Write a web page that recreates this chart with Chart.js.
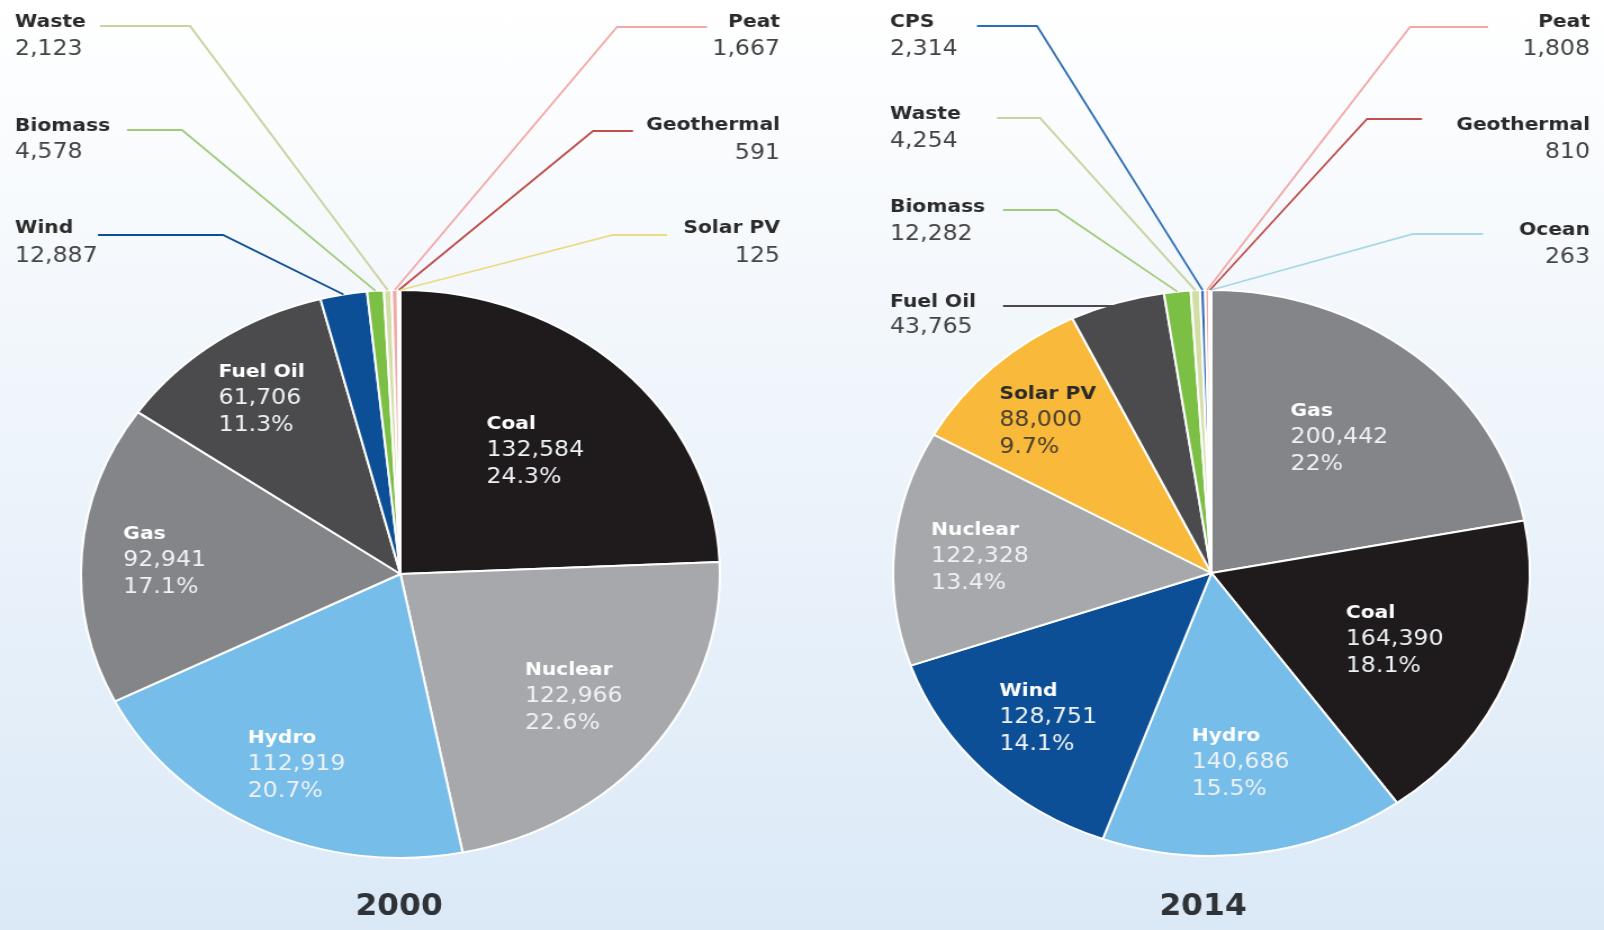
<!DOCTYPE html>
<html>
<head>
<meta charset="utf-8">
<script src="https://cdn.jsdelivr.net/npm/chart.js@4"></script>
<style>
  html, body { margin: 0; padding: 0; width: 1604px; height: 930px; overflow: hidden; }
  body { background: linear-gradient(to bottom, #ffffff 0%, #f4f8fc 30%, #dbe9f7 100%); position: relative; }
  canvas { position: absolute; top: 0; }
</style>
</head>
<body>
<canvas id="pie2000" width="713" height="930" style="left:0;width:802px;height:930px"></canvas>
<canvas id="pie2014" width="713" height="930" style="left:802px;width:802px;height:930px"></canvas>
<script>
// values
const sources2000 = ["Coal", "Nuclear", "Hydro", "Gas", "Fuel Oil", "Wind", "Biomass", "Waste", "Peat", "Geothermal", "Solar PV"];
const values2000 = [132584, 122966, 112919, 92941, 61706, 12887, 4578, 2123, 1667, 591, 125];

const sources2014 = ["Gas", "Coal", "Hydro", "Wind", "Nuclear", "Solar PV", "Fuel Oil", "Biomass", "Waste", "CPS", "Peat", "Geothermal", "Ocean"];
const values2014 = [200442, 164390, 140686, 128751, 122328, 88000, 43765, 12282, 4254, 2314, 1808, 810, 263];

const years = ["2000", "2014"];

const sourceColors = {
  "Coal": "#1f1a1b", "Nuclear": "#a7a8ab", "Hydro": "#76bde9", "Gas": "#848588",
  "Fuel Oil": "#4b4b4d", "Wind": "#0c4f96", "Biomass": "#7bbf45", "Waste": "#d3dea6",
  "Peat": "#f2a9a6", "Geothermal": "#c0504d", "Solar PV": "#f9b93a", "CPS": "#2f6db5",
  "Ocean": "#a6d8e6"
};
const lineColors = { "Solar PV": "#e9dc86", "Waste": "#c6d39c", "Biomass": "#a3cb80" };

// the reference is stretched sideways; canvases are drawn narrow and widened by css
const STRETCH = 802 / 713;

const layout2000 = {
  offset: 0, yearX: 399,
  padding: { left: 71, right: 72, top: 289, bottom: 71 },
  inside: { "Coal": 0.61, "Nuclear": 0.69, "Hydro": 0.74, "Gas": 0.74, "Fuel Oil": 0.76 },
  outside: [
    { name: "Waste", align: "left", tx: 15, nb: 27, vb: 55, ly: 26, start: 100, knee: 190 },
    { name: "Biomass", align: "left", tx: 15, nb: 131, vb: 158, ly: 130, start: 127, knee: 182 },
    { name: "Wind", align: "left", tx: 15, nb: 233, vb: 262, ly: 235, start: 98, knee: 223 },
    { name: "Peat", align: "right", tx: 780, nb: 27, vb: 55, ly: 27, start: 707, knee: 617 },
    { name: "Geothermal", align: "right", tx: 780, nb: 130, vb: 159, ly: 131, start: 633, knee: 593 },
    { name: "Solar PV", align: "right", tx: 780, nb: 233, vb: 262, ly: 235, start: 667, knee: 613 }
  ]
};

const layout2014 = {
  offset: 802, yearX: 1203,
  padding: { left: 80, right: 65, top: 289, bottom: 73 },
  inside: { "Gas": 0.63, "Coal": 0.62, "Hydro": 0.67, "Wind": 0.72, "Nuclear": 0.73, "Solar PV": 0.75 },
  outside: [
    { name: "CPS", align: "left", tx: 890, nb: 27, vb: 55, ly: 26, start: 977, knee: 1037 },
    { name: "Waste", align: "left", tx: 890, nb: 119, vb: 147, ly: 118, start: 997, knee: 1040 },
    { name: "Biomass", align: "left", tx: 890, nb: 212, vb: 240, ly: 210, start: 1003, knee: 1057 },
    { name: "Fuel Oil", align: "left", tx: 890, nb: 307, vb: 333, ly: 306, start: 1003, knee: null },
    { name: "Peat", align: "right", tx: 1590, nb: 27, vb: 55, ly: 27, start: 1488, knee: 1410 },
    { name: "Geothermal", align: "right", tx: 1590, nb: 130, vb: 158, ly: 119, start: 1422, knee: 1367 },
    { name: "Ocean", align: "right", tx: 1590, nb: 235, vb: 263, ly: 234, start: 1483, knee: 1413 }
  ]
};

const NAME_FONT = 'bold 18px "DejaVu Sans", sans-serif';
const VALUE_FONT = '21px "DejaVu Sans", sans-serif';

const pieLabels = {
  id: 'pieLabels',
  afterDraw(chart, args, opts) {
    const ctx = chart.ctx;
    const lay = opts.layout;
    const meta = chart.getDatasetMeta(0);
    const labels = chart.data.labels;
    const values = chart.data.datasets[0].data;
    const total = values.reduce((a, b) => a + b, 0);
    const toX = X => (X - lay.offset) / STRETCH;
    ctx.save();
    ctx.textBaseline = 'alphabetic';

    // labels inside the big slices
    meta.data.forEach((arc, i) => {
      const name = labels[i];
      const f = lay.inside[name];
      if (f === undefined) return;
      const mid = (arc.startAngle + arc.endAngle) / 2;
      const px = arc.x + Math.cos(mid) * arc.outerRadius * f;
      const py = arc.y + Math.sin(mid) * arc.outerRadius * f;
      const num = values[i].toLocaleString('en-US');
      const pct = (values[i] / total * 100).toFixed(1).replace(/\.0$/, '') + '%';
      ctx.font = NAME_FONT;
      const w1 = ctx.measureText(name).width;
      ctx.font = VALUE_FONT;
      const w2 = Math.max(ctx.measureText(num).width, ctx.measureText(pct).width);
      const left = px - Math.max(w1, w2) / 2;
      const dark = name === "Solar PV";
      ctx.textAlign = 'left';
      ctx.fillStyle = dark ? '#2a2a2a' : '#ffffff';
      ctx.font = NAME_FONT;
      ctx.fillText(name, left, py - 20);
      ctx.fillStyle = dark ? '#4a4030' : '#eef2f6';
      ctx.font = VALUE_FONT;
      ctx.fillText(num, left, py + 7);
      ctx.fillText(pct, left, py + 34);
    });

    // call-out labels for the thin slices
    lay.outside.forEach(o => {
      const i = labels.indexOf(o.name);
      const arc = meta.data[i];
      const mid = (arc.startAngle + arc.endAngle) / 2;
      ctx.strokeStyle = lineColors[o.name] || sourceColors[o.name];
      ctx.lineWidth = 1.8;
      ctx.beginPath();
      ctx.moveTo(toX(o.start), o.ly);
      if (o.knee !== null) {
        ctx.lineTo(toX(o.knee), o.ly);
        ctx.lineTo(arc.x + Math.cos(mid) * arc.outerRadius, arc.y + Math.sin(mid) * arc.outerRadius);
      } else {
        const dy = o.ly - arc.y;
        const ex = arc.x - Math.sqrt(Math.max(arc.outerRadius * arc.outerRadius - dy * dy, 0)) + 14;
        ctx.lineTo(ex, o.ly);
      }
      ctx.stroke();

      ctx.textAlign = o.align;
      ctx.fillStyle = '#2b2b2b';
      ctx.font = NAME_FONT;
      ctx.fillText(o.name, toX(o.tx), o.nb);
      ctx.fillStyle = '#444444';
      ctx.font = VALUE_FONT;
      ctx.fillText(values[i].toLocaleString('en-US'), toX(o.tx), o.vb);
    });

    // year under the pie
    ctx.textAlign = 'center';
    ctx.fillStyle = '#2f3236';
    ctx.font = 'bold 31px "DejaVu Sans Condensed", "DejaVu Sans", sans-serif';
    ctx.fillText(opts.year, toX(lay.yearX), 915);
    ctx.restore();
  }
};

function makePie(id, sources, values, year, lay) {
  return new Chart(document.getElementById(id), {
    type: 'pie',
    data: {
      labels: sources,
      datasets: [{
        data: values,
        backgroundColor: sources.map(s => sourceColors[s]),
        borderColor: '#ffffff',
        borderWidth: 2
      }]
    },
    options: {
      responsive: false,
      devicePixelRatio: 1,
      animation: false,
      events: [],
      layout: { padding: lay.padding },
      plugins: {
        legend: { display: false },
        tooltip: { enabled: false },
        pieLabels: { layout: lay, year: year }
      }
    },
    plugins: [pieLabels]
  });
}

makePie('pie2000', sources2000, values2000, years[0], layout2000);
makePie('pie2014', sources2014, values2014, years[1], layout2014);
</script>
</body>
</html>
